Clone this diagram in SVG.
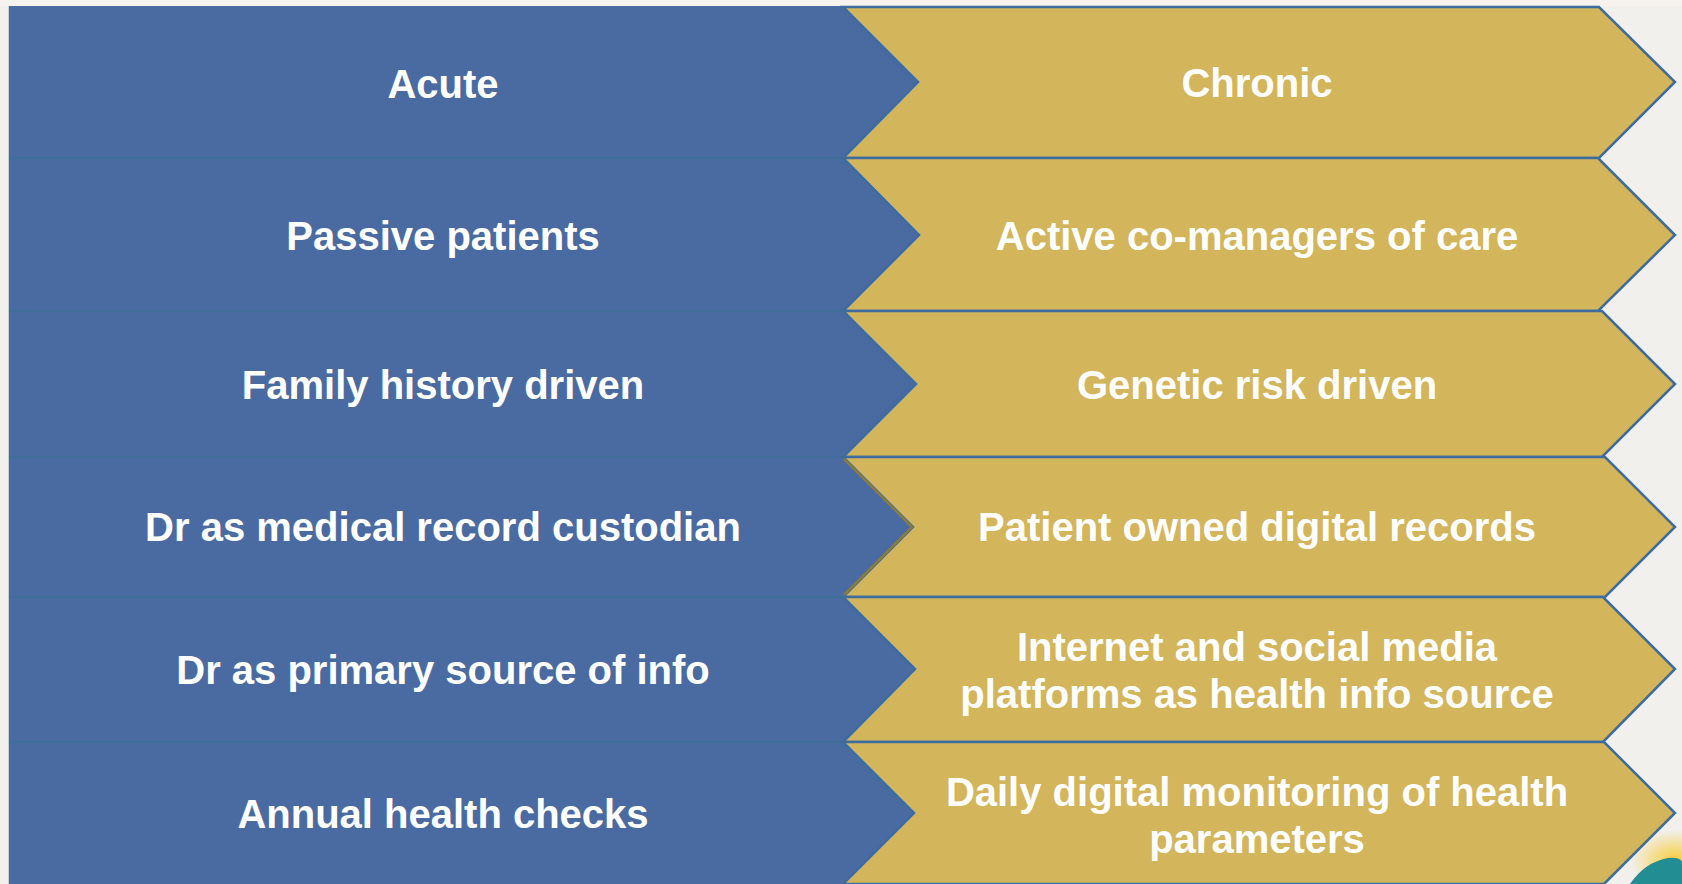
<svg xmlns="http://www.w3.org/2000/svg" width="1682" height="884" viewBox="0 0 1682 884">
  <defs>
    <style>
      .bg { fill: #f2f0ed; }
      .blue { fill: #4a6ba2; }
      .sep { stroke: #3f6f98; stroke-width: 2; fill: none; }
      .chev { fill: #d3b55b; stroke: #3e6c9f; stroke-width: 2.5; stroke-linejoin: miter; }
      .lbl { font-family: "Liberation Sans", Arial, sans-serif; font-weight: bold; font-size: 40px; fill: #ffffff; text-anchor: middle; }
    </style>
    <radialGradient id="glow" cx="0.5" cy="0.5" r="0.5">
      <stop offset="0" stop-color="#f7c928" stop-opacity="0.9"/>
      <stop offset="1" stop-color="#f7c928" stop-opacity="0"/>
    </radialGradient>
  </defs>

  <rect class="bg" x="0" y="0" width="1682" height="884"/>
  <rect x="0" y="0" width="1682" height="6" fill="#f6f3ee"/>

  <!-- bottom-right logo hint -->
  <ellipse cx="1675" cy="860" rx="45" ry="30" fill="url(#glow)"/>
  <path d="M1630 884 Q1645 862 1668 858 Q1680 857 1682 862 L1682 884 Z" fill="#228d92"/>

  <!-- left blue column -->
  <g id="left-column">
    <rect class="blue" x="9" y="6" width="910" height="878"/>
    <line x1="9.5" y1="6" x2="9.5" y2="884" stroke="#3f6f98" stroke-width="1.5"/>
  </g>

  <g id="connectors">
    <line class="sep" x1="9" y1="158" x2="916" y2="158"/>
    <line class="sep" x1="9" y1="311" x2="916" y2="311"/>
    <line class="sep" x1="9" y1="457" x2="916" y2="457"/>
    <line class="sep" x1="9" y1="597" x2="916" y2="597"/>
    <line class="sep" x1="9" y1="742" x2="916" y2="742"/>
  </g>

  <g id="left-1"><text class="lbl" x="443" y="98">Acute</text></g>
  <g id="left-2"><text class="lbl" x="443" y="250">Passive patients</text></g>
  <g id="left-3"><text class="lbl" x="443" y="399">Family history driven</text></g>
  <g id="left-4"><text class="lbl" x="443" y="541">Dr as medical record custodian</text></g>
  <g id="left-5"><text class="lbl" x="443" y="684">Dr as primary source of info</text></g>
  <g id="left-6"><text class="lbl" x="443" y="828">Annual health checks</text></g>

  <g id="right-1">
    <polygon class="chev" points="843,7 1599,7 1675,82 1599,158 843,158 918,82"/>
    <text class="lbl" x="1257" y="97">Chronic</text>
  </g>
  <g id="right-2">
    <polygon class="chev" points="843,158 1598,158 1675,235 1598,311 843,311 919,235"/>
    <text class="lbl" x="1257" y="250">Active co-managers of care</text>
  </g>
  <g id="right-3">
    <polygon class="chev" points="843,311 1602,311 1675,384 1602,457 843,457 916,384"/>
    <text class="lbl" x="1257" y="399">Genetic risk driven</text>
  </g>
  <g id="right-4">
    <polygon class="chev" points="843,457 1605,457 1675,527 1605,597 843,597 913,527"/>
    <polyline points="844,459 912,527 844,595" fill="none" stroke="#8a7c3c" stroke-width="2.5"/>
    <text class="lbl" x="1257" y="541">Patient owned digital records</text>
  </g>
  <g id="right-5">
    <polygon class="chev" points="843,597 1603,597 1675,669 1603,742 843,742 915,669"/>
    <text class="lbl" x="1257" y="661">Internet and social media</text>
    <text class="lbl" x="1257" y="708">platforms as health info source</text>
  </g>
  <g id="right-6">
    <polygon class="chev" points="843,742 1604,742 1675,813 1604,884 843,884 914,813"/>
    <text class="lbl" x="1257" y="806">Daily digital monitoring of health</text>
    <text class="lbl" x="1257" y="853">parameters</text>
  </g>
</svg>
